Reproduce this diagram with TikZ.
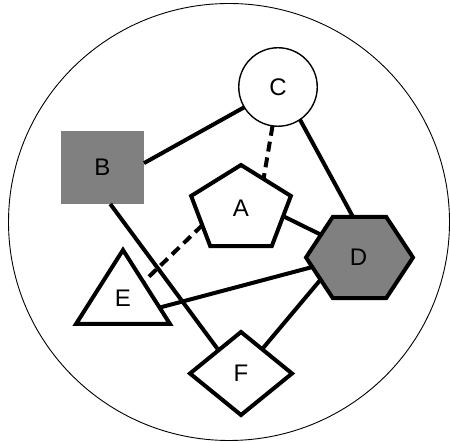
\documentclass[tikz,border=0pt]{standalone}
\usepackage{fontspec}
\setmainfont{Liberation Sans}
\usetikzlibrary{shapes.geometric}
\definecolor{shapegray}{RGB}{128,128,128}
\begin{document}
\begin{tikzpicture}[x=1pt,y=-1pt,
  thk/.style={line width=4pt},
  dashline/.style={thk, dash pattern=on 10pt off 6pt},
  lbl/.style={font=\fontsize{24}{24}\selectfont, inner sep=0pt, outer sep=0pt},
  poly/.style={draw, thk, regular polygon, inner sep=0pt, outer sep=0pt, transform shape},
]
\useasboundingbox (0,0) rectangle (450,443);
\draw[line width=0.9pt] (229,222) ellipse [x radius=220.5pt, y radius=218.5pt];

% C circle
\node[draw, circle, line width=1.4pt, minimum size=78.5pt, inner sep=0pt, outer sep=0pt,
      font=\fontsize{24}{24}\selectfont] (C) at (278,87) {C};
% B square
\node[fill=shapegray, minimum width=83pt, minimum height=73pt, inner sep=0pt, outer sep=0pt,
      font=\fontsize{24}{24}\selectfont] (B) at (102.5,167.5) {B};
% A pentagon
\begin{scope}[shift={(241,209.8)}, xscale=1.17]
  \node[poly, regular polygon sides=5, minimum size=89.6pt] (A) at (0,0) {};
\end{scope}
\node[lbl] (At) at (241,208) {A};
% D hexagon
\begin{scope}[shift={(359.5,257.5)}, xscale=1.143]
  \node[poly, fill=shapegray, regular polygon sides=6, minimum size=93.6pt] (D) at (0,0) {};
\end{scope}
\node[lbl] (Dt) at (358.5,257) {D};
% E triangle
\begin{scope}[shift={(123,299.3)}, xscale=1.10]
  \node[poly, regular polygon sides=3, minimum size=98.6pt] (E) at (0,0) {};
\end{scope}
\node[lbl] (Et) at (123,298) {E};
% F diamond
\node[draw, thk, diamond, minimum width=102pt, minimum height=83pt, inner sep=0pt, outer sep=0pt,
      font=\fontsize{24}{24}\selectfont] (F) at (241,373.5) {F};

% connectors
\draw[thk] (C.211) -- (B.6);
\draw[dashline] (C.-98.7) -- (A.58);
\draw[thk] (C.-56) -- (D.98);
\draw[thk] (A.-10.8) -- (D.146);
\draw[dashline] (A.205.6) -- (E.43.3);
\draw[thk] (B.-78.4) -- (F.134.4);
\draw[thk] (E.-14.3) -- (D.193.6);
\draw[thk] (D.213) -- (F.49.4);
\end{tikzpicture}
\end{document}
